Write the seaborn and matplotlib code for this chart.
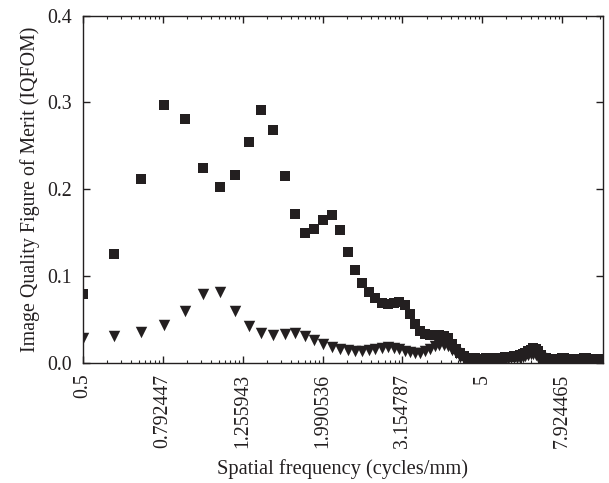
import numpy as np
import pandas as pd
import seaborn as sns
import matplotlib
matplotlib.use("Agg")
import matplotlib.pyplot as plt
from matplotlib.ticker import FixedLocator, NullFormatter

# spatial frequency samples (cycles/mm)
freq = [0.5, 0.6, 0.7, 0.8, 0.9, 1.0, 1.1, 1.2, 1.3, 1.4, 1.5, 1.6, 1.7, 1.8, 1.9,
        2.0, 2.1, 2.2, 2.3, 2.4, 2.5, 2.6, 2.7, 2.8, 2.9, 3.0, 3.1, 3.2, 3.3, 3.4,
        3.5, 3.6, 3.7, 3.8, 3.9, 4.0, 4.1, 4.2, 4.3, 4.4, 4.5, 4.6, 4.7, 4.8, 4.9,
        5.0, 5.1, 5.2, 5.3, 5.4, 5.5, 5.6, 5.7, 5.8, 5.9, 6.0, 6.1, 6.2, 6.3, 6.4,
        6.5, 6.6, 6.7, 6.8, 6.9, 7.0, 7.1, 7.2, 7.3, 7.4, 7.5, 7.6, 7.7, 7.8, 7.9,
        8.0, 8.1, 8.2, 8.3, 8.4, 8.5, 8.6, 8.7, 8.8, 8.9, 9.0, 9.1, 9.2, 9.3, 9.4,
        9.5, 9.6, 9.7, 9.8, 9.9, 10.0]

iqfom_squares = [0.079, 0.125, 0.212, 0.297, 0.281, 0.225, 0.202, 0.216, 0.254, 0.291,
                 0.268, 0.215, 0.171, 0.150, 0.154, 0.165, 0.170, 0.153, 0.128, 0.107,
                 0.092, 0.081, 0.075, 0.069, 0.068, 0.069, 0.070, 0.066, 0.056, 0.045,
                 0.037, 0.033, 0.032, 0.032, 0.032, 0.031, 0.028, 0.022, 0.016, 0.011,
                 0.008, 0.006, 0.005, 0.005, 0.004, 0.004, 0.005, 0.005, 0.006, 0.006,
                 0.006, 0.006, 0.007, 0.007, 0.007, 0.008, 0.008, 0.009, 0.010, 0.011,
                 0.013, 0.015, 0.017, 0.016, 0.013, 0.009, 0.006, 0.005, 0.004, 0.004,
                 0.004, 0.004, 0.004, 0.004, 0.005, 0.005, 0.004, 0.004, 0.004, 0.003,
                 0.003, 0.004, 0.004, 0.004, 0.004, 0.005, 0.005, 0.004, 0.004, 0.003,
                 0.003, 0.003, 0.004, 0.004, 0.004, 0.004]

iqfom_triangles = [0.028, 0.031, 0.035, 0.044, 0.060, 0.079, 0.081, 0.060, 0.042, 0.034,
                   0.032, 0.033, 0.034, 0.031, 0.026, 0.022, 0.018, 0.016, 0.015, 0.014,
                   0.014, 0.015, 0.016, 0.017, 0.018, 0.017, 0.016, 0.014, 0.012, 0.011,
                   0.011, 0.013, 0.016, 0.019, 0.021, 0.021, 0.019, 0.015, 0.011, 0.007,
                   0.004, 0.003, 0.002, 0.002, 0.002, 0.002, 0.003, 0.003, 0.003, 0.003,
                   0.004, 0.004, 0.004, 0.004, 0.005, 0.005, 0.006, 0.006, 0.007, 0.008,
                   0.009, 0.010, 0.010, 0.009, 0.007, 0.005, 0.003, 0.002, 0.002, 0.002,
                   0.003, 0.003, 0.002, 0.002, 0.002, 0.003, 0.003, 0.002, 0.002, 0.002,
                   0.002, 0.003, 0.003, 0.002, 0.002, 0.002, 0.003, 0.003, 0.002, 0.002,
                   0.002, 0.002, 0.003, 0.003, 0.002, 0.002]

xtick_values = [0.5, 0.792447, 1.255943, 1.990536, 3.154787, 5, 7.924465]
xtick_labels = ["0.5", "0.792447", "1.255943", "1.990536", "3.154787", "5", "7.924465"]
ytick_values = [0.0, 0.1, 0.2, 0.3, 0.4]

df = pd.DataFrame({"freq": freq, "sq": iqfom_squares, "tri": iqfom_triangles})

sns.set_style("ticks")
plt.rcParams["font.family"] = ["Liberation Serif", "DejaVu Serif"]

ink = "#231f20"
fig = plt.figure(figsize=(6.09, 4.83), dpi=100)
ax = fig.add_axes([0.1358, 0.249, 0.8539, 0.7185])

sns.scatterplot(data=df, x="freq", y="sq", marker="s", s=52, color=ink,
                linewidth=0, ax=ax, zorder=3)
sns.scatterplot(data=df, x="freq", y="tri", marker="v", s=68, color=ink,
                linewidth=0, ax=ax, zorder=3)

ax.set_xscale("log")
ax.set_xlim(0.5, 10.0)
ax.set_ylim(0.0, 0.4)

# each labelled interval is drawn like a decade, with log-style minor ticks
step = 10 ** 0.2
minor = []
for a in xtick_values:
    for k in range(2, 10):
        v = a * step ** np.log10(k)
        if v <= 10.0:
            minor.append(v)
ax.xaxis.set_major_locator(FixedLocator(xtick_values))
ax.set_xticklabels(xtick_labels, rotation=90)
ax.xaxis.set_minor_locator(FixedLocator(minor))
ax.xaxis.set_minor_formatter(NullFormatter())
ax.set_yticks(ytick_values)
ax.set_yticklabels([f"{v:.1f}" for v in ytick_values])

ax.tick_params(axis="both", which="major", direction="in", length=5, width=1,
               top=True, right=True, labelsize=14.3, colors=ink, pad=8)
ax.tick_params(axis="x", which="minor", direction="in", length=2.5, width=0.8,
               top=True, bottom=True)
for sp in ax.spines.values():
    sp.set_color(ink)
    sp.set_linewidth(1)

ax.set_xlabel("Spatial frequency (cycles/mm)", fontsize=14.8, color=ink, labelpad=8)
ax.set_ylabel("Image Quality Figure of Merit (IQFOM)", fontsize=14.3, color=ink, labelpad=5)

fig.savefig("out.png", dpi=100)
